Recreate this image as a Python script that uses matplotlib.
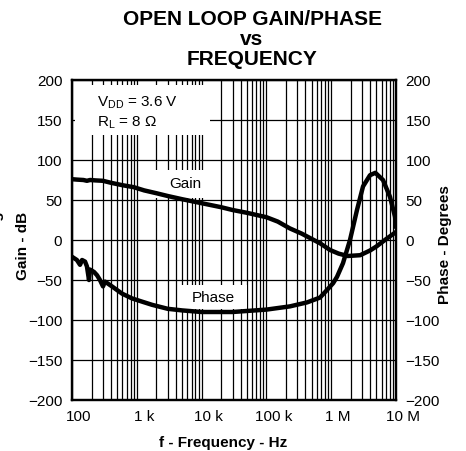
"""
Courbe gain/phase en boucle ouverte en fonction de la fréquence
(matplotlib, sauvegardé en PNG).
"""

import matplotlib
matplotlib.use("Agg")
import matplotlib.pyplot as plt
import matplotlib.transforms as mtransforms
from matplotlib.patches import Rectangle
from matplotlib.ticker import FixedLocator, LogLocator, NullFormatter

plt.rcParams["font.family"] = ["Liberation Sans", "DejaVu Sans"]
plt.rcParams["mathtext.fontset"] = "custom"
plt.rcParams["mathtext.rm"] = "Liberation Sans"
plt.rcParams["mathtext.it"] = "Liberation Sans:italic"
plt.rcParams["mathtext.bf"] = "Liberation Sans:bold"

# Données
gain_freq = [100, 119, 150, 170, 190, 230, 300, 400, 600, 900, 1300, 2000,
             3000, 5000, 10e3, 20e3, 30e3, 50e3, 100e3, 150e3, 230e3,
             350e3, 470e3, 670e3, 960e3, 1.3e6, 1.8e6, 2.8e6, 4e6, 5e6,
             7e6, 10e6]
gain_db = [76, 75.5, 75, 74, 75, 74.5, 74, 71.5, 68.5, 66, 62, 58.5,
           55, 51, 46, 41, 37.5, 34, 28.5, 23, 14.5,
           8, 2.5, -4, -12.5, -17, -20, -19, -13, -8,
           1, 10]

phase_freq = [100, 119, 133, 143, 159, 170, 183, 190, 219, 243, 270, 301,
              323, 414, 591, 843, 1200, 1717, 3000, 5000, 10e3, 30e3, 100e3,
              230e3, 424e3, 671e3, 861e3, 1.07e6, 1.23e6, 1.52e6, 1.95e6,
              2.5e6, 3.1e6, 3.97e6, 4.8e6, 6.3e6, 8.07e6, 9.66e6, 10e6]
phase_deg = [-21, -25, -31, -25, -27, -33, -50, -37, -40, -44, -50, -58,
             -52, -58, -67, -73, -77, -81, -86, -88, -90, -90, -87,
             -83, -78, -72, -62.5, -54, -46, -29, 0,
             37.5, 67, 81, 84, 75, 54, 29, 17]

x_ticks = [100, 1e3, 10e3, 100e3, 1e6, 10e6]
x_tick_labels = ["100", "1 k", "10 k", "100 k", "1 M", "10 M"]
y_ticks = [-200, -150, -100, -50, 0, 50, 100, 150, 200]

W, H = 466, 451
fig = plt.figure(figsize=(W / 100, H / 100), dpi=100)
ax = fig.add_axes([72 / W, 1 - 400 / H, 324 / W, 320 / H])
ax2 = ax.twinx()

ax.set_xscale("log")
ax.set_xlim(100, 10e6)
ax.set_ylim(-200, 200)
ax2.set_ylim(-200, 200)
ax.xaxis.set_major_locator(FixedLocator(x_ticks))
ax.set_xticklabels(x_tick_labels)
ax.xaxis.set_minor_locator(LogLocator(base=10, subs=range(2, 10)))
ax.xaxis.set_minor_formatter(NullFormatter())
ax.set_yticks(y_ticks)
ax2.set_yticks(y_ticks)

ax.grid(True, which="both", axis="x", color="black", linewidth=0.9)
ax.grid(True, which="major", axis="y", color="black", linewidth=0.9)
ax.set_axisbelow(True)

for a in (ax, ax2):
    a.tick_params(axis="both", which="both", length=0, labelsize=11, pad=7)
    for sp in a.spines.values():
        sp.set_linewidth(1.6)

# décalage des étiquettes de fréquence vers la droite
offset = mtransforms.ScaledTranslation(0.07, 0, fig.dpi_scale_trans)
for lbl in ax.get_xticklabels():
    lbl.set_transform(lbl.get_transform() + offset)

# cadres blancs derrière les annotations
for x0, y0, w, h in [(0.009, 0.828, 0.417, 0.156),
                     (0.228, 0.631, 0.210, 0.0875),
                     (0.327, 0.284, 0.213, 0.075)]:
    ax.add_patch(Rectangle((x0, y0), w, h, transform=ax.transAxes,
                           facecolor="white", edgecolor="none", zorder=1.5))

ax.plot(gain_freq, gain_db, color="black", linewidth=3.2, zorder=3)
ax2.plot(phase_freq, phase_deg, color="black", linewidth=3.2, zorder=3)

ax.text(0.077, 0.916, r"V$_{\rm DD}$ = 3.6 V", transform=ax.transAxes,
        fontsize=11, va="baseline", zorder=4)
ax.text(0.077, 0.853, r"R$_{\rm L}$ = 8 $\Omega$", transform=ax.transAxes,
        fontsize=11, va="baseline", zorder=4)
ax.text(0.349, 0.675, "Gain", transform=ax.transAxes, fontsize=11,
        ha="center", va="center", zorder=4)
ax.text(0.437, 0.320, "Phase", transform=ax.transAxes, fontsize=11,
        ha="center", va="center", zorder=4)

# titre sur trois lignes
for txt, base in [("OPEN LOOP GAIN/PHASE", 25), ("vs", 45), ("FREQUENCY", 65)]:
    fig.text(252 / W, 1 - base / H, txt, fontsize=15, fontweight="bold",
             ha="center", va="baseline")

fig.text(223 / W, 1 - 443 / H, "f - Frequency - Hz", fontsize=11,
         fontweight="bold", ha="center", va="center")
fig.text(23 / W, 1 - 246 / H, "Gain - dB", fontsize=11, fontweight="bold",
         rotation=90, ha="center", va="center")
fig.text(-3 / W, 1 - 240 / H, "Phase - Degrees", fontsize=11,
         fontweight="bold", rotation=90, ha="center", va="center")
fig.text(445.5 / W, 1 - 245 / H, "Phase - Degrees", fontsize=11,
         fontweight="bold", rotation=90, ha="center", va="center")

fig.savefig("out.png", dpi=100)
